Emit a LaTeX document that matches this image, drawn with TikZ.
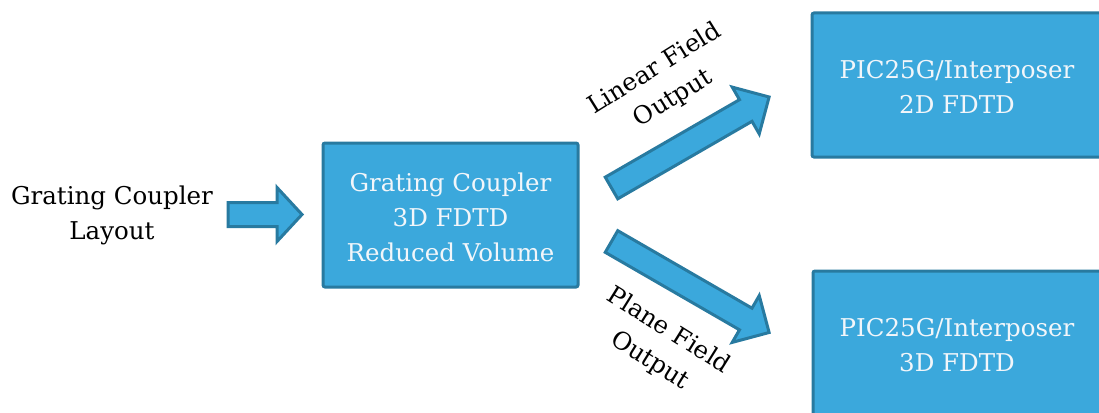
\documentclass[tikz,border=0pt]{standalone}
\usepackage{fontspec}
\setmainfont{DejaVu Serif}
\definecolor{boxfill}{RGB}{59,168,220}
\definecolor{boxline}{RGB}{40,122,160}
\definecolor{boxtext}{RGB}{242,246,250}
\tikzset{
  procbox/.style={draw=boxline, fill=boxfill, line width=3pt, rounded corners=2pt},
  boxlabel/.style={text=boxtext, align=center, inner sep=0pt, font=\fontsize{24.5}{35}\selectfont},
  plainlabel/.style={text=black, align=center, inner sep=0pt, font=\fontsize{24.5}{35}\selectfont},
  blockarrow/.style={draw=boxline, fill=boxfill, line width=3pt, line join=miter},
}
\begin{document}
\begin{tikzpicture}[x=1pt,y=-1pt]
\useasboundingbox (0,0) rectangle (1099,412);
\clip (0,0) rectangle (1099,412);
% boxes
\draw[procbox] (323,143) rectangle (578,287);
\node[boxlabel] (mid) at (450.5,217) {Grating Coupler\\3D FDTD\\Reduced Volume};
\draw[procbox] (812,13) rectangle (1115,157);
\node[boxlabel] (top) at (957,87) {PIC25G/Interposer\\2D FDTD};
\draw[procbox] (813,271) rectangle (1115,430);
\node[boxlabel] (bot) at (957,345) {PIC25G/Interposer\\3D FDTD};
% left text
\node[plainlabel] (layout) at (112,215) {Grating Coupler\\Layout};
% arrows
\draw[blockarrow, shift={(228,214.5)}] (0,-12) -- (49,-12) -- (49,-27) -- (74,0) -- (49,27) -- (49,12) -- (0,12) -- cycle;
\draw[blockarrow, shift={(611.5,188)}, rotate=30] (0,-12.5) -- (155,-12.5) -- (155,-27) -- (182,0) -- (155,27) -- (155,12.5) -- (0,12.5) -- cycle;
\draw[blockarrow, shift={(611.5,241.5)}, rotate=-30] (0,-12.5) -- (155,-12.5) -- (155,-27) -- (182,0) -- (155,27) -- (155,12.5) -- (0,12.5) -- cycle;
% arrow labels
\node[plainlabel, rotate=32] (lin) at (664,84) {Linear Field\\Output};
\node[plainlabel, rotate=-32] (pla) at (659,346) {Plane Field\\Output};
\end{tikzpicture}
\end{document}
